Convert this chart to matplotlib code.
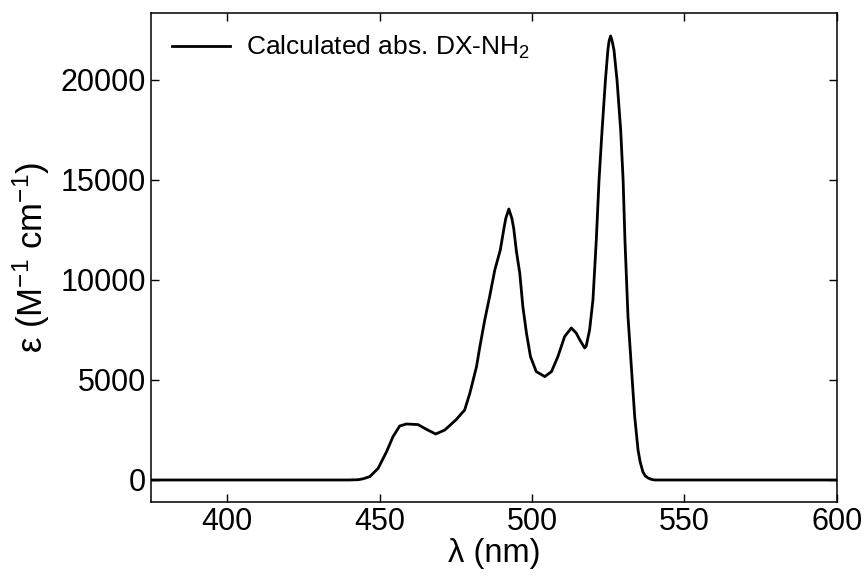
import matplotlib.pyplot as plt

plt.rcParams['font.family'] = ['Liberation Sans', 'DejaVu Sans']
plt.rcParams['mathtext.fontset'] = 'custom'
plt.rcParams['mathtext.rm'] = 'Liberation Sans'
plt.rcParams['mathtext.it'] = 'Liberation Sans:italic'

# Spettro assorbimento calcolato
wavelength = [375, 420, 440, 443.0, 444.6, 446.8, 449.5, 452.3, 454.4, 456.6, 458.8,
              462.6, 465.4, 468.4, 471.4, 475.2, 477.9, 479.6, 480.7, 481.8,
              482.9, 484.5, 486.1, 487.8, 489.6, 490.8, 491.4, 492.4, 493.4,
              494.0, 494.9, 496.0, 497.0, 498.2, 499.5, 501.4, 504.2, 506.4,
              508.5, 510.7, 512.9, 514.5, 515.7, 517.3, 517.8, 518.9, 520.0,
              520.8, 521.1, 522.0, 523.0, 524.1, 524.9, 525.3, 525.8, 526.3,
              526.9, 527.9, 529.1, 529.9, 530.5, 531.5, 532.6, 533.7, 534.8,
              535.5, 536.4, 537.2, 538.1, 539.2, 540.2, 560, 600]
epsilon = [0, 0, 0, 15, 60, 170, 580, 1420, 2170, 2700, 2800,
           2770, 2530, 2300, 2500, 3030, 3500, 4330, 5000, 5670,
           6670, 8000, 9170, 10500, 11500, 12580, 13080, 13550, 13080,
           12580, 11420, 10330, 8670, 7330, 6170, 5420, 5170, 5420,
           6170, 7170, 7600, 7350, 7000, 6600, 6700, 7500, 9000,
           11170, 12000, 15000, 17500, 20000, 21500, 21950, 22200, 21950,
           21500, 20000, 17500, 15000, 12000, 8170, 5670, 3170, 1500,
           900, 400, 200, 100, 30, 0, 0, 0]

fig = plt.figure(figsize=(8.68, 5.77), dpi=100)
ax = fig.add_axes([0.174, 0.130, 0.790, 0.8475])
ax.plot(wavelength, epsilon, color='black', linewidth=2.0,
        solid_joinstyle='round', label='Calculated abs. DX-NH$_2$')

ax.set_xlim(375, 600)
ax.set_ylim(-1100, 23350)
ax.set_xticks([400, 450, 500, 550, 600])
ax.set_yticks([0, 5000, 10000, 15000, 20000])
ax.set_xlabel('λ (nm)', fontsize=23.5, labelpad=1)
ax.set_ylabel('ε (M$^{-1}$ cm$^{-1}$)', fontsize=25, labelpad=6)
ax.tick_params(direction='in', top=True, right=True, labelsize=22,
               length=5.5, width=1)
for s in ax.spines.values():
    s.set_linewidth(1.1)

ax.legend(loc='upper left', frameon=False, fontsize=19, handlelength=2.2,
          handletextpad=0.6, borderaxespad=0.4)

plt.savefig('out.png', dpi=100)
